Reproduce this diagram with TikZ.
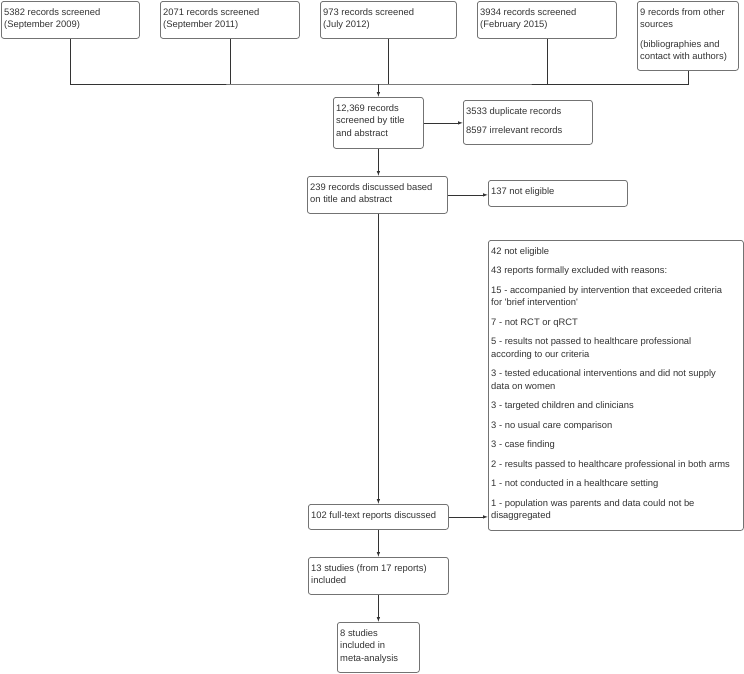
\documentclass[tikz,border=0pt]{standalone}
\usepackage{fontspec}
\setmainfont{Liberation Sans}
\usetikzlibrary{positioning,arrows.meta,calc}

% box drawn at its top left corner, text set at the top of it
\newcommand{\flowbox}[6]{%
  \node[box,minimum width=#4pt,minimum height=#5pt] (#1) at (#2,#3) {};
  \node[boxtext] at (#1.north west) {#6};}
\newcommand{\pgap}{\\[7pt]}

\begin{document}
\begin{tikzpicture}[x=1pt,y=-1pt,
  every node/.style={font=\fontsize{9.4}{12.5}\selectfont,text=black!80},
  box/.style={draw=black!55,line width=0.8pt,rounded corners=2.5pt,anchor=north west,inner sep=0pt},
  boxtext/.style={anchor=north west,align=left,inner xsep=3pt,inner ysep=7pt},
  flow/.style={draw=black!80,line width=0.8pt},
  arr/.style={flow,-{Latex[length=5pt,width=3.5pt]}}]
  \useasboundingbox (0,0) rectangle (744,673);

  % sources
  \flowbox{s1}{1}{1}{138}{37}{5382 records screened\\(September 2009)}
  \flowbox{s2}{160}{1}{139}{37}{2071 records screened\\(September 2011)}
  \flowbox{s3}{320}{1}{136}{37}{973 records screened\\(July 2012)}
  \flowbox{s4}{477}{1}{139}{37}{3934 records screened\\(February 2015)}
  \flowbox{s5}{637}{1}{101}{69}{9 records from other\\sources\pgap(bibliographies and\\contact with authors)}

  % screening
  \flowbox{screen}{333}{97}{90}{51}{12,369 records\\screened by title\\and abstract}
  \flowbox{dup}{463}{100}{129}{44}{3533 duplicate records\pgap 8597 irrelevant records}
  \flowbox{discuss}{307}{176}{140}{37}{239 records discussed based\\on title and abstract}
  \flowbox{notelig}{488}{180}{139}{26}{137 not eligible}
  \flowbox{fulltext}{308}{504}{140}{25}{102 full-text reports discussed}
  \flowbox{excl}{488}{240}{255}{290}{42 not eligible\pgap
    43 reports formally excluded with reasons:\pgap
    15 - accompanied by intervention that exceeded criteria\\for \textquotesingle brief intervention\textquotesingle\pgap
    7 - not RCT or qRCT\pgap
    5 - results not passed to healthcare professional\\according to our criteria\pgap
    3 - tested educational interventions and did not supply\\data on women\pgap
    3 - targeted children and clinicians\pgap
    3 - no usual care comparison\pgap
    3 - case finding\pgap
    2 - results passed to healthcare professional in both arms\pgap
    1 - not conducted in a healthcare setting\pgap
    1 - population was parents and data could not be\\disaggregated}
  \flowbox{incl}{308}{557}{140}{37}{13 studies (from 17 reports)\\included}
  \flowbox{meta}{337}{622}{82}{50}{8 studies\\included in\\meta-analysis}

  % connectors
  \coordinate (join) at (screen.north |- 0,84);
  \draw[flow] (s1.south) |- (join) -| (s5.south);
  \foreach \n in {s2,s3,s4}
    \draw[flow] (\n.south) -- (\n.south |- join);
  \draw[arr] (join) -- (screen.north);
  \draw[arr] (screen.east) -- (screen.east -| dup.west);
  \draw[arr] (screen.south) -- (discuss.north -| screen.south);
  \draw[arr] (discuss.east) -- (discuss.east -| notelig.west);
  \draw[arr] (discuss.south -| screen.south) -- (fulltext.north -| screen.south);
  \draw[arr] (fulltext.east) -- (fulltext.east -| excl.west);
  \draw[arr] (fulltext.south -| screen.south) -- (incl.north -| screen.south);
  \draw[arr] (incl.south -| screen.south) -- (meta.north -| screen.south);
\end{tikzpicture}
\end{document}
